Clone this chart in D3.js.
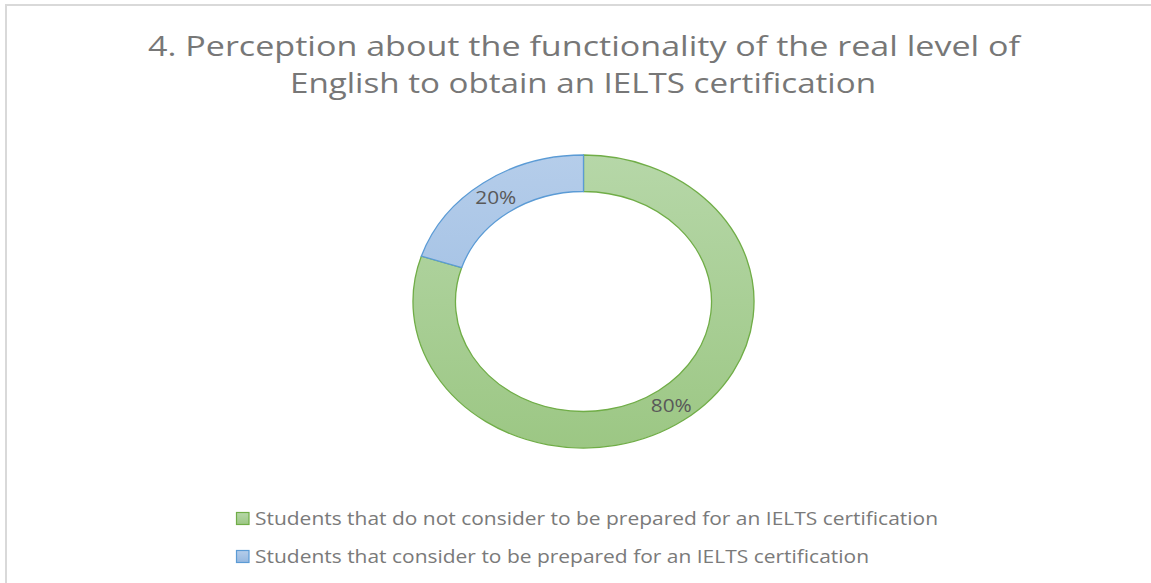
<!DOCTYPE html>
<html>
<head>
<meta charset="utf-8">
<script src="https://cdn.jsdelivr.net/npm/d3@7/dist/d3.min.js"></script>
<style>
html,body{margin:0;padding:0;background:#fff;}
svg{display:block;}
</style>
</head>
<body>
<svg id="chart" width="1151" height="583"></svg>
<script>
const titleLines = ["4. Perception about the functionality of the real level of", "English to obtain an IELTS certification"];
const categories = ["Students that do not consider to be prepared for an IELTS certification", "Students that consider to be prepared for an IELTS certification"];
const values = [80, 20];
const valueLabels = ["80%", "20%"];

const W = 1151, H = 583;
const svg = d3.select("#chart");
const font = "'Open Sans', 'Noto Sans', sans-serif";

// frame
svg.append("line").attr("x1", 5).attr("x2", W).attr("y1", 5).attr("y2", 5).attr("stroke", "#d9d9d9").attr("stroke-width", 2);
svg.append("line").attr("x1", 6).attr("x2", 6).attr("y1", 4).attr("y2", H).attr("stroke", "#d9d9d9").attr("stroke-width", 2);

const defs = svg.append("defs");
const fills = [
  {id: "gGreen", top: "#b6d7a8", bottom: "#9cc784", stroke: "#70ad47"},
  {id: "gBlue", top: "#b5cdea", bottom: "#95b8e0", stroke: "#5b9bd5"}
];
const outerR = 146.5, innerR = 110, sx = 1.164;
const cx = 583.5, cy = 301.5;
fills.forEach(f => {
  const g = defs.append("linearGradient").attr("id", f.id).attr("gradientUnits", "userSpaceOnUse")
    .attr("x1", 0).attr("x2", 0).attr("y1", -outerR).attr("y2", outerR);
  g.append("stop").attr("offset", 0).attr("stop-color", f.top);
  g.append("stop").attr("offset", 1).attr("stop-color", f.bottom);
  const g2 = defs.append("linearGradient").attr("id", f.id + "L").attr("x1", 0).attr("x2", 0).attr("y1", 0).attr("y2", 1);
  g2.append("stop").attr("offset", 0).attr("stop-color", f.top);
  g2.append("stop").attr("offset", 1).attr("stop-color", f.bottom);
});

// title
const titleX = [584, 583], titleY = [56, 93], titleW = [872, 586];
titleLines.forEach((t, i) => {
  svg.append("text").attr("x", titleX[i]).attr("y", titleY[i]).attr("text-anchor", "middle")
    .attr("font-family", font).attr("font-size", 28).attr("fill", "#777777")
    .attr("textLength", titleW[i]).attr("lengthAdjust", "spacingAndGlyphs").text(t);
});

// donut
const pie = d3.pie().sort(null).value(d => d);
const arcs = pie(values);
const arc = d3.arc().innerRadius(innerR).outerRadius(outerR);
const labelArc = d3.arc().innerRadius(innerR).outerRadius(outerR);
const g = svg.append("g").attr("transform", `translate(${cx},${cy}) scale(${sx},1)`);
g.selectAll("path").data(arcs).enter().append("path")
  .attr("d", arc)
  .attr("fill", (d, i) => `url(#${fills[i].id})`)
  .attr("stroke", (d, i) => fills[i].stroke)
  .attr("stroke-width", 1.3)
  .attr("vector-effect", "non-scaling-stroke")
  .attr("stroke-linejoin", "round");

arcs.forEach((d, i) => {
  const c = labelArc.centroid(d);
  svg.append("text").attr("x", cx + c[0] * sx).attr("y", cy + c[1] + 6.5)
    .attr("text-anchor", "middle").attr("font-family", font).attr("font-size", 18)
    .attr("fill", "#595959").attr("textLength", 41).attr("lengthAdjust", "spacingAndGlyphs")
    .text(valueLabels[i]);
});

// legend
const legY = [518.5, 556.5], legW = [683, 614];
categories.forEach((c, i) => {
  svg.append("rect").attr("x", 236.5).attr("y", legY[i] - 6).attr("width", 12.5).attr("height", 12)
    .attr("fill", `url(#${fills[i].id}L)`).attr("stroke", fills[i].stroke).attr("stroke-width", 1.2);
  svg.append("text").attr("x", 255).attr("y", legY[i] + 6.5)
    .attr("font-family", font).attr("font-size", 18).attr("fill", "#7a7a7a")
    .attr("textLength", legW[i]).attr("lengthAdjust", "spacingAndGlyphs").text(c);
});
</script>
</body>
</html>
